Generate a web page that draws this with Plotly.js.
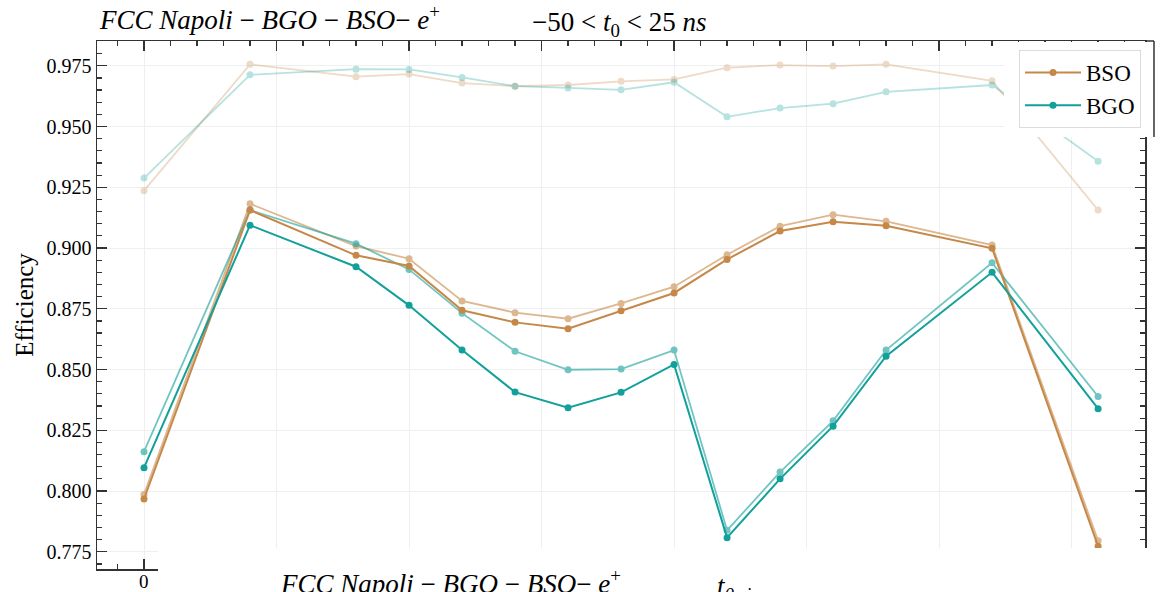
<!DOCTYPE html>
<html>
<head>
<meta charset="utf-8">
<script src="https://cdn.plot.ly/plotly-3.0.1.min.js"></script>
<style>html,body{margin:0;padding:0;background:#fff;}</style>
</head>
<body>
<div id="chart" style="width:1167px;height:592px;"></div>
<script>
// x positions (t0 steps)
var xVals = [0, 4, 8, 10, 12, 14, 16, 18, 20, 22, 24, 26, 28, 32, 36];

// main series
var bsoMain = [0.7967, 0.9156, 0.8970, 0.8926, 0.8744, 0.8694, 0.8668, 0.8742, 0.8815, 0.8953, 0.9070, 0.9108, 0.9092, 0.8999, 0.7773];
var bgoMain = [0.8096, 0.9094, 0.8923, 0.8764, 0.8580, 0.8407, 0.8343, 0.8406, 0.8521, 0.7808, 0.8050, 0.8267, 0.8555, 0.8900, 0.8339];

// medium-light series
var bsoMid = [0.7986, 0.9182, 0.9008, 0.8956, 0.8782, 0.8734, 0.8709, 0.8772, 0.8841, 0.8972, 0.9090, 0.9137, 0.9110, 0.9012, 0.7795];
var bgoMid = [0.8162, 0.9156, 0.9018, 0.8912, 0.8732, 0.8575, 0.8499, 0.8502, 0.8580, 0.7838, 0.8078, 0.8289, 0.8580, 0.8939, 0.8389];

// very light (top) series
var bsoTop = [0.9236, 0.9756, 0.9705, 0.9716, 0.9679, 0.9666, 0.9671, 0.9686, 0.9694, 0.9742, 0.9753, 0.9749, 0.9756, 0.9688, 0.9156];
var bgoTop = [0.9288, 0.9713, 0.9736, 0.9735, 0.9702, 0.9666, 0.9659, 0.9651, 0.9682, 0.9540, 0.9576, 0.9594, 0.9643, 0.9671, 0.9357];

var xTickVals = [0, 5, 10, 15, 20, 25, 30, 35];
var xLabelVal = 0;
var xLabelText = "0";

var BSO_C = "rgb(198,136,72)";
var BGO_C = "rgb(18,160,154)";

function tr(y, color, op, name, show, width) {
  return {
    x: xVals, y: y, type: "scatter", mode: "lines+markers",
    name: name, showlegend: show, opacity: op,
    line: {color: color, width: width},
    marker: {color: color, size: 7}
  };
}

var data = [
  tr(bsoTop, BSO_C, 0.3, "BSO top", false, 1.8),
  tr(bgoTop, BGO_C, 0.3, "BGO top", false, 1.8),
  tr(bsoMid, BSO_C, 0.6, "BSO mid", false, 1.8),
  tr(bgoMid, BGO_C, 0.6, "BGO mid", false, 1.8),
  tr(bsoMain, BSO_C, 1, "BSO", true, 2),
  tr(bgoMain, BGO_C, 1, "BGO", true, 2)
];

// pixel -> paper helpers for decorative overlay shapes
var L = 97, R = 1145, T = 41, B = 569;
function px(x) { return (x - L) / (R - L); }
function py(y) { return (B - y) / (B - T); }

var serif = "Liberation Serif, Times New Roman, serif";

var layout = {
  width: 1167, height: 592,
  margin: {l: L, r: 1167 - R, t: T, b: 592 - B},
  paper_bgcolor: "#ffffff", plot_bgcolor: "#ffffff",
  font: {family: serif, color: "#000", size: 19},
  xaxis: {
    range: [-1.774, 37.77],
    tickmode: "array", tickvals: xTickVals, showticklabels: false,
    ticks: "inside", ticklen: 10, tickwidth: 1.2, tickcolor: "#333",
    showline: true, linecolor: "#333", linewidth: 1.5, mirror: "allticks",
    showgrid: true, gridcolor: "#efefef", gridwidth: 1, zeroline: false,
    minor: {tickmode: "linear", tick0: 0, dtick: 1, ticks: "inside", ticklen: 5, tickcolor: "#333", showgrid: false}
  },
  yaxis: {
    range: [0.7679, 0.9852],
    tickmode: "linear", tick0: 0, dtick: 0.025, tickformat: ".3f",
    ticks: "inside", ticklen: 10, tickwidth: 1.2, tickcolor: "#333",
    showline: true, linecolor: "#333", linewidth: 1.5, mirror: "allticks",
    showgrid: true, gridcolor: "#efefef", gridwidth: 1, zeroline: false,
    tickfont: {family: serif, size: 20, color: "#000"},
    title: {text: "Efficiency", font: {family: serif, size: 25, color: "#000"}, standoff: 6},
    minor: {tickmode: "linear", tick0: 0, dtick: 0.005, ticks: "inside", ticklen: 5, tickcolor: "#333", showgrid: false}
  },
  legend: {
    x: px(1019), y: py(50), xanchor: "left", yanchor: "top",
    bgcolor: "#ffffff", bordercolor: "#dcdcdc", borderwidth: 1,
    font: {family: serif, size: 23, color: "#000"},
    itemwidth: 56, tracegroupgap: 4
  },
  shapes: [
    // bottom white patch (composite cut)
    {type: "rect", xref: "paper", yref: "paper", x0: px(158), x1: px(1167), y0: py(548), y1: py(600),
     fillcolor: "#ffffff", line: {width: 0}, layer: "above"},
    // upper-right white patch
    {type: "rect", xref: "paper", yref: "paper", x0: px(1004), x1: px(1167), y0: py(137), y1: py(42),
     fillcolor: "#ffffff", line: {width: 0}, layer: "above"},
    // patch spines
    {type: "line", xref: "paper", yref: "paper", x0: px(1154), x1: px(1154), y0: py(137), y1: py(41),
     line: {color: "#333", width: 1.5}, layer: "above"},
    {type: "line", xref: "paper", yref: "paper", x0: px(1145), x1: px(1154), y0: py(41), y1: py(41),
     line: {color: "#333", width: 1.5}, layer: "above"}
  ],
  annotations: [
    {xref: "x", yref: "paper", x: xLabelVal, y: py(569), xanchor: "center", yanchor: "top", showarrow: false,
     text: xLabelText, font: {family: serif, size: 19, color: "#000"}},
    {xref: "paper", yref: "paper", x: px(97), y: py(18), xanchor: "left", yanchor: "middle", showarrow: false,
     text: "<i>FCC Napoli</i> − <i>BGO</i> − <i>BSO</i>− <i>e</i><sup>+</sup>",
     font: {family: serif, size: 27, color: "#000"}},
    {xref: "paper", yref: "paper", x: px(619), y: py(24), xanchor: "center", yanchor: "middle", showarrow: false,
     text: "−50 &lt; <i>t</i><sub>0</sub> &lt; 25 <i>ns</i>",
     font: {family: serif, size: 27, color: "#000"}},
    {xref: "paper", yref: "paper", x: px(278), y: py(582), xanchor: "left", yanchor: "middle", showarrow: false,
     text: "<i>FCC Napoli</i> − <i>BGO</i> − <i>BSO</i>− <i>e</i><sup>+</sup>",
     font: {family: serif, size: 27, color: "#000"}},
    {xref: "paper", yref: "paper", x: px(715), y: py(588), xanchor: "left", yanchor: "middle", showarrow: false,
     text: "<i>t</i><sub><i>0 sim ns</i></sub>",
     font: {family: serif, size: 27, color: "#000"}}
  ]
};

Plotly.newPlot("chart", data, layout, {displayModeBar: false, staticPlot: true});
</script>
</body>
</html>
